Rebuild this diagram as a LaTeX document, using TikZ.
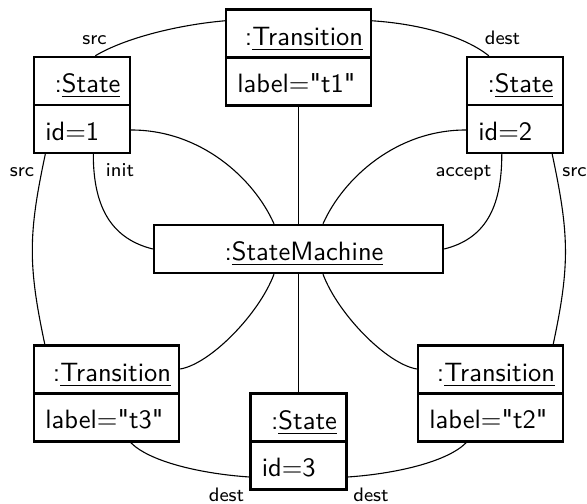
\documentclass[tikz,border=0pt]{standalone}
\usetikzlibrary{calc}
\newdimen\pxu \pxu=0.4pt
\tikzset{
  box/.style={draw, line width=2.4*\pxu, inner sep=0pt},
  statebox/.style={box, minimum width=96*\pxu, minimum height=96*\pxu},
  transbox/.style={box, minimum width=145*\pxu, minimum height=96*\pxu},
  machinebox/.style={box, minimum width=289*\pxu, minimum height=48*\pxu},
  divider/.style={line width=2.4*\pxu},
  head/.style={anchor=base, inner sep=0pt, font=\fontsize{10.6}{12}\selectfont\sffamily},
  body/.style={anchor=base west, inner sep=0pt, font=\fontsize{10.6}{12}\selectfont\sffamily},
  link/.style={line width=1.1*\pxu},
  role/.style={anchor=base, inner sep=0pt, font=\fontsize{7.8}{9}\selectfont\sffamily},
}
\newcommand{\qq}{\textquotedbl}
\begin{document}
\begin{tikzpicture}[x=0.4pt, y=-0.4pt]
\useasboundingbox (0,0) rectangle (587,504);

% boxes
\node[statebox] (s1) at (82,105) {};
\node[statebox] (s2) at (515,105) {};
\node[transbox] (t1) at (298.5,57.5) {};
\node[machinebox] (sm) at (298.5,249) {};
\node[transbox] (t3) at (106.5,393.5) {};
\node[transbox] (t2) at (490.5,393.5) {};
\node[statebox] (s3) at (298.5,441.5) {};

\foreach \b in {s1,s2,t1,t3,t2,s3} {
  \draw[divider] (\b.west) -- (\b.east);
}

% texts
\node[head] (s1h) at ($(s1.north)+(5.5,37)$) {:\underline{State}};
\node[body] (s1b) at ($(s1.west)+(12,35.5)$) {id=1};
\node[head] (s2h) at ($(s2.north)+(5.5,37)$) {:\underline{State}};
\node[body] (s2b) at ($(s2.west)+(12,35.5)$) {id=2};
\node[head] (t1h) at ($(t1.north)+(5.5,37)$) {:\underline{Transition}};
\node[body] (t1b) at ($(t1.west)+(12,35.5)$) {label=\qq t1\qq};
\node[head] (smh) at ($(sm.north)+(5.5,37)$) {:\underline{StateMachine}};
\node[head] (t3h) at ($(t3.north)+(5.5,37)$) {:\underline{Transition}};
\node[body] (t3b) at ($(t3.west)+(12,35.5)$) {label=\qq t3\qq};
\node[head] (t2h) at ($(t2.north)+(5.5,37)$) {:\underline{Transition}};
\node[body] (t2b) at ($(t2.west)+(12,35.5)$) {label=\qq t2\qq};
\node[head] (s3h) at ($(s3.north)+(5.5,37)$) {:\underline{State}};
\node[body] (s3b) at ($(s3.west)+(12,35.5)$) {id=3};

% connectors
\draw[link] ($(t1.north west)+(0,12.5)$) .. controls +(-46,4) and +(30,-18) .. ($(s1.north west)+(62.5,0)$);
\draw[link] ($(t1.north east)+(0,12.5)$) .. controls +(46,3) and +(-25,-20) .. ($(s2.north west)+(23,0)$);
\draw[link] (t1.south) -- (sm.north);
\draw[link] ($(s1.east)+(0,25)$) .. controls +(70,0) and +(-20,-45) .. ($(sm.north)+(-24.5,0)$);
\draw[link] ($(s1.south west)+(60.5,0)$) .. controls +(0,55) and +(-40,-10) .. (sm.west);
\draw[link] ($(s1.south west)+(12.5,0)$) .. controls +(-17,80) and +(-17,-80) .. ($(t3.north west)+(12,0)$);
\draw[link] ($(s2.west)+(0,25)$) .. controls +(-70,0) and +(20,-45) .. ($(sm.north)+(24.5,0)$);
\draw[link] ($(s2.south west)+(36,0)$) .. controls +(0,55) and +(40,-10) .. (sm.east);
\draw[link] ($(s2.south east)+(-12,0)$) .. controls +(17,80) and +(17,-80) .. ($(t2.north east)+(-11,0)$);
\draw[link] ($(sm.south)+(-24.5,0)$) .. controls +(-15,40) and +(30,-5) .. ($(t3.east)+(0,-24.5)$);
\draw[link] ($(sm.south)+(24.5,0)$) .. controls +(15,40) and +(-30,-5) .. ($(t2.west)+(0,-24.5)$);
\draw[link] (sm.south) -- (s3.north);
\draw[link] ($(t3.south west)+(98,0)$) .. controls +(20,20) and +(-45,-3) .. ($(s3.west)+(0,35.5)$);
\draw[link] ($(t2.south east)+(-98,0)$) .. controls +(-20,20) and +(45,-3) .. ($(s3.east)+(0,35.5)$);

% role labels
\node[role] (l1) at (94.5,45) {src};
\node[role] (l2) at (502.5,45) {dest};
\node[role] (l3) at (22,177) {src};
\node[role] (l4) at (120,177) {init};
\node[role] (l5) at (463.5,177) {accept};
\node[role] (l6) at (574.5,177) {src};
\node[role] (l7) at (226.5,501.5) {dest};
\node[role] (l8) at (371,501.5) {dest};
\end{tikzpicture}
\end{document}
